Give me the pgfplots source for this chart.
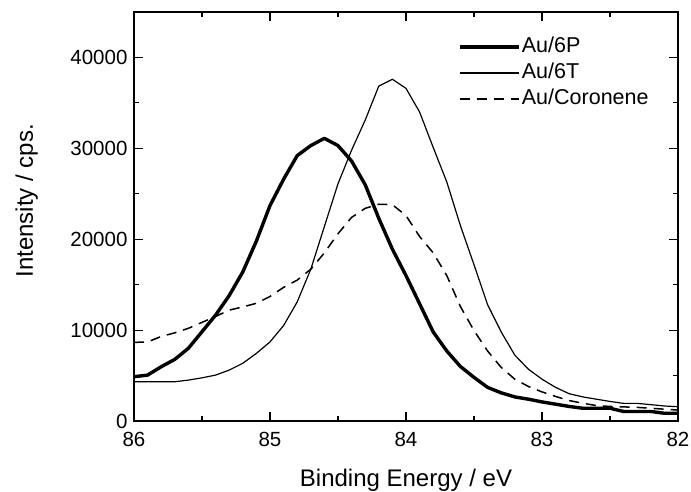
\documentclass[border=0pt]{standalone}
\usepackage{pgfplots}
\pgfplotsset{compat=1.18}
\usepackage{fontspec}
\setmainfont{Liberation Sans}
\begin{document}
\begin{tikzpicture}
\useasboundingbox (-134pt,-71pt) rectangle (557pt,421pt);
\begin{axis}[
  scale only axis, width=544pt, height=409pt,
  at={(0pt,0pt)}, anchor=south west,
  x dir=reverse,
  xmin=82, xmax=86, ymin=0, ymax=45000,
  xtick={82,83,84,85,86}, minor x tick num=1,
  ytick={0,10000,20000,30000,40000}, minor y tick num=1,
  scaled y ticks=false,
  /pgf/number format/assume math mode=true,
  /pgf/number format/set thousands separator={},
  tick align=inside, xtick pos=both, ytick pos=both,
  major tick length=9pt, minor tick length=5pt,
  every tick/.style={line width=1.2pt, black},
  axis line style={line width=1.2pt},
  tick label style={font=\fontsize{20.5}{24}\selectfont},
  xticklabel style={yshift=-8pt},
  yticklabel style={xshift=-3pt},
  label style={font=\fontsize{24}{28}\selectfont},
  xlabel={Binding Energy / eV},
  ylabel={Intensity / cps.},
  xlabel style={at={(axis description cs:0.5,0)}, anchor=base, yshift=-66pt},
  ylabel style={at={(axis description cs:-0.1857,0.538)}, anchor=base},
  legend style={draw=none, fill=none, at={(axis description cs:0.5956,0.946)}, anchor=north west,
    font=\fontsize{21.5}{25}\selectfont, inner sep=0pt, outer sep=0pt,
    nodes={text height=15pt, text depth=4pt, inner ysep=3.5pt, inner xsep=1.5pt}},
  legend cell align=left,
  legend image code/.code={\draw[#1] (0pt,0pt) -- (59pt,0pt);},
]
\addplot[black, line width=3.4pt, line join=round] coordinates {
(86.0,4870) (85.9,5050) (85.8,5970) (85.7,6780) (85.6,8000) (85.5,9820) (85.4,11650) (85.3,13800)
(85.2,16400) (85.1,19800) (85.0,23700) (84.9,26600) (84.8,29200) (84.7,30300) (84.6,31100)
(84.5,30300) (84.4,28600) (84.3,26000) (84.2,22300) (84.1,18900) (84.0,16000) (83.9,12900)
(83.8,9800) (83.7,7700) (83.6,6000) (83.5,4800) (83.4,3700) (83.3,3100) (83.2,2650) (83.1,2400)
(83.0,2100) (82.9,1850) (82.8,1600) (82.7,1400) (82.6,1400) (82.5,1400) (82.4,1050) (82.3,1050)
(82.2,1050) (82.1,850) (82.0,850)
};
\addlegendentry{Au/6P}
\addplot[black, line width=1.2pt, line join=round] coordinates {
(86.0,4320) (85.9,4320) (85.8,4320) (85.7,4320) (85.6,4500) (85.5,4750) (85.4,5050) (85.3,5600)
(85.2,6350) (85.1,7440) (85.0,8700) (84.9,10500) (84.8,13100) (84.7,16700) (84.6,21400)
(84.5,26100) (84.4,29800) (84.3,33100) (84.2,36850) (84.1,37600) (84.0,36600) (83.9,34000)
(83.8,30100) (83.7,26300) (83.6,21500) (83.5,17200) (83.4,12800) (83.3,9800) (83.2,7250)
(83.1,5700) (83.0,4600) (82.9,3700) (82.8,3000) (82.7,2650) (82.6,2400) (82.5,2150) (82.4,1940)
(82.3,1940) (82.2,1800) (82.1,1650) (82.0,1570)
};
\addlegendentry{Au/6T}
\addplot[black, line width=1.5pt, dash pattern=on 10pt off 7pt] coordinates {
(86.0,8650) (85.9,8700) (85.8,9300) (85.7,9700) (85.6,10200) (85.5,10850) (85.4,11500) (85.3,12200)
(85.2,12550) (85.1,12950) (85.0,13700) (84.9,14700) (84.8,15500) (84.7,16700) (84.6,18500)
(84.5,20600) (84.4,22400) (84.3,23400) (84.2,23850) (84.1,23800) (84.0,22600) (83.9,20300)
(83.8,18500) (83.7,16000) (83.6,12600) (83.5,9950) (83.4,7700) (83.3,5900) (83.2,4600)
(83.1,3800) (83.0,3200) (82.9,2700) (82.8,2250) (82.7,1950) (82.6,1700) (82.5,1600) (82.4,1550)
(82.3,1500) (82.2,1400) (82.1,1300) (82.0,1200)
};
\addlegendentry{Au/Coronene}
\end{axis}
\end{tikzpicture}
\end{document}
